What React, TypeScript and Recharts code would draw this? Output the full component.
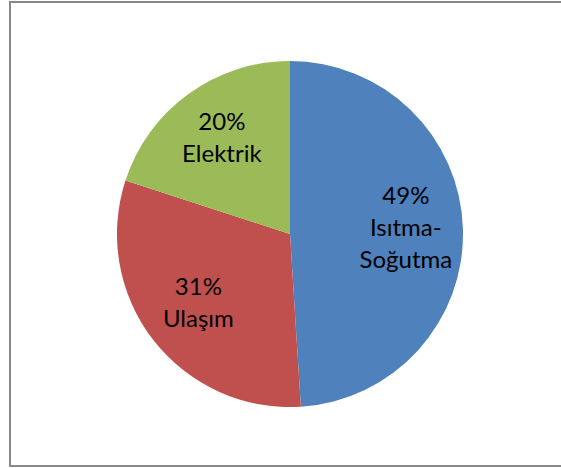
import React from 'react';
import { PieChart, Pie, Cell } from 'recharts';

const categories = ['Isıtma-Soğutma', 'Ulaşım', 'Elektrik'];
const shares = [49, 31, 20];
const colors = ['#4F81BD', '#C0504D', '#9BBB59'];

const data = categories.map((name, i) => ({ name, value: shares[i] }));
const total = shares.reduce((a, b) => a + b, 0);

const RADIAN = Math.PI / 180;
const LINE_HEIGHT = 32;

// break a category after a hyphen so long names wrap onto two lines
const wrapName = (name: string) => {
  const idx = name.indexOf('-');
  if (idx === -1) return [name];
  return [name.slice(0, idx + 1), name.slice(idx + 1)];
};

const SliceLabel = (props: any) => {
  const { cx, cy, midAngle, outerRadius, name, value } = props;
  const r = outerRadius * 0.67;
  const x = cx + r * Math.cos(-midAngle * RADIAN);
  const y = cy + r * Math.sin(-midAngle * RADIAN) - 4;
  const lines = [`${Math.round((value / total) * 100)}%`, ...wrapName(name)];
  const top = y - ((lines.length - 1) * LINE_HEIGHT) / 2;
  return (
    <text
      x={x}
      y={top}
      textAnchor="middle"
      dominantBaseline="central"
      fill="#000"
      fontFamily="Lato, 'Noto Sans', sans-serif"
      fontSize={24}
    >
      {lines.map((line, i) => (
        <tspan key={i} x={x} y={top + i * LINE_HEIGHT}>
          {line}
        </tspan>
      ))}
    </text>
  );
};

export default function App() {
  return (
    <div style={{ position: 'fixed', left: 0, top: 0, width: 561, height: 468, background: '#fff' }}>
      <div
        style={{
          position: 'absolute',
          left: 9,
          top: 1,
          width: 560,
          height: 466,
          boxSizing: 'border-box',
          border: '2px solid #898989',
        }}
      />
      <div style={{ position: 'absolute', left: 0, top: 0 }}>
        <PieChart width={561} height={468} margin={{ top: 0, right: 0, bottom: 0, left: 0 }}>
          <Pie
            data={data}
            dataKey="value"
            nameKey="name"
            cx={290}
            cy={234}
            outerRadius={173}
            startAngle={90}
            endAngle={-270}
            stroke="none"
            labelLine={false}
            label={SliceLabel}
            isAnimationActive={false}
          >
            {data.map((d, i) => (
              <Cell key={d.name} fill={colors[i]} />
            ))}
          </Pie>
        </PieChart>
      </div>
    </div>
  );
}
